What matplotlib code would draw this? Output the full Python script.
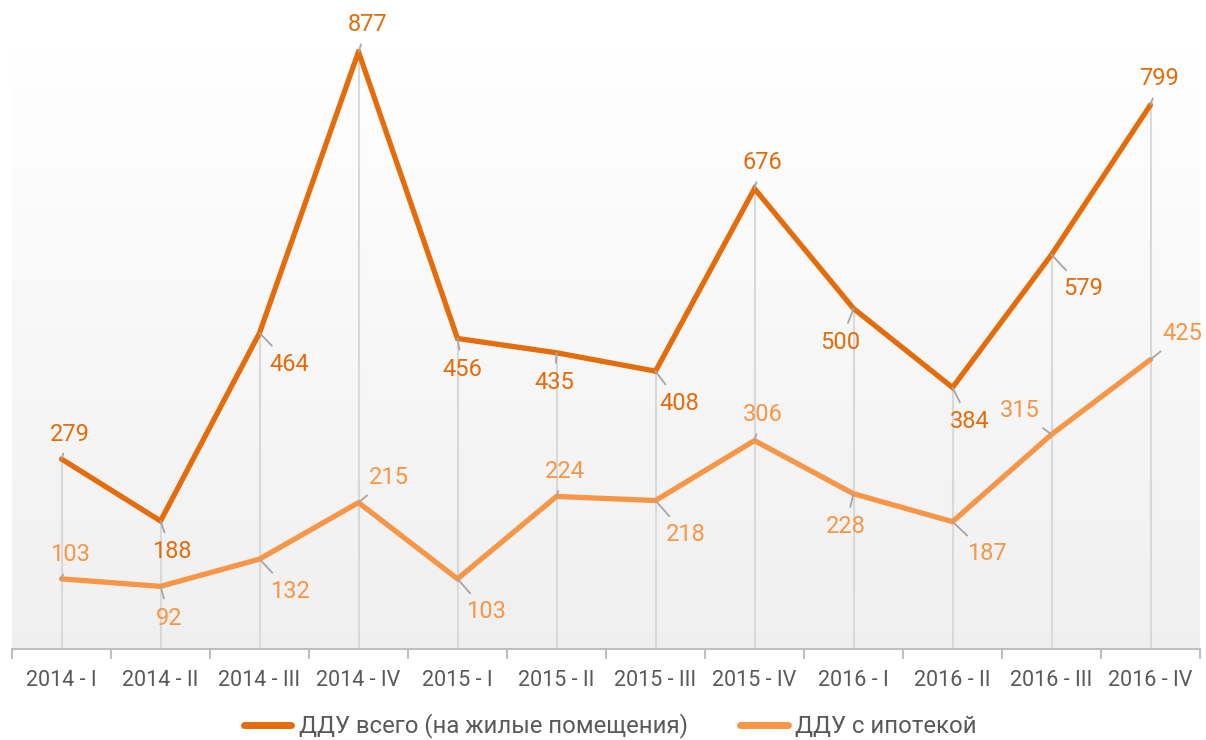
import numpy as np
import matplotlib.pyplot as plt
from matplotlib.lines import Line2D

plt.rcParams['font.family'] = ['Roboto', 'DejaVu Sans']

quarters = ['2014 - I', '2014 - II', '2014 - III', '2014 - IV',
            '2015 - I', '2015 - II', '2015 - III', '2015 - IV',
            '2016 - I', '2016 - II', '2016 - III', '2016 - IV']
ddu_total = [279, 188, 464, 877, 456, 435, 408, 676, 500, 384, 579, 799]
ddu_mortgage = [103, 92, 132, 215, 103, 224, 218, 306, 228, 187, 315, 425]
names = ['ДДУ всего (на жилые помещения)', 'ДДУ с ипотекой']

# label offsets in pixels (dx, dy), y up
off_total = [(8, 25), (11, -31), (30, -31), (9, 27), (5, -31), (-2, -30),
             (24, -32), (8, 26), (-13, -34), (17, -34), (32, -34), (9, 26)]
off_mortgage = [(8, 24), (9, -32), (30, -32), (30, 25), (29, -33), (8, 25),
                (30, -34), (8, 26), (-8, -33), (34, -32), (-32, 24), (32, 26)]

c_dark = '#E46C0A'
c_light = '#F79646'

fig = plt.figure(figsize=(12.06, 7.4), dpi=100)
ax = fig.add_axes([12 / 1206, 91 / 740, 1188 / 1206, 600 / 740])
x = np.arange(len(quarters))

ax.set_xlim(-0.5, 11.5)
ax.set_ylim(0, 600 / 0.681)

# background gradient
grad = np.linspace(0, 1, 256).reshape(-1, 1)
bg = np.ones((256, 1, 3))
for k in range(3):
    bg[:, 0, k] = 1.0 - grad[:, 0] * (1.0 - 0.94)
ax.imshow(bg, extent=[-0.5, 11.5, 0, 600 / 0.681], aspect='auto', origin='upper', zorder=0)

ax.vlines(x, 0, np.maximum(ddu_total, ddu_mortgage), color='#d9d9d9', lw=1.5, zorder=1)

ax.plot(x, ddu_total, color=c_dark, lw=3.8, solid_capstyle='round', solid_joinstyle='miter', zorder=3)
ax.plot(x, ddu_mortgage, color=c_light, lw=3.8, solid_capstyle='round', solid_joinstyle='miter', zorder=3)

for vals, offs, col in [(ddu_total, off_total, c_dark), (ddu_mortgage, off_mortgage, c_light)]:
    for i, v in enumerate(vals):
        dx, dy = offs[i]
        ax.annotate(str(v), xy=(i, v), xytext=(dx, dy), textcoords='offset pixels',
                    ha='center', va='center', fontsize=17, color=col, zorder=4,
                    arrowprops=dict(arrowstyle='-', color='#a6a6a6', lw=1.3,
                                    shrinkA=4, shrinkB=0))

for s in ['top', 'right', 'left']:
    ax.spines[s].set_visible(False)
ax.spines['bottom'].set_color('#bfbfbf')
ax.spines['bottom'].set_linewidth(1.5)
ax.set_yticks([])
ax.set_xticks(x)
ax.set_xticklabels(quarters, fontsize=15.5, color='#595959')
ax.tick_params(axis='x', which='major', length=0, pad=15)
ax.set_xticks(np.arange(-0.5, 12, 1), minor=True)
ax.tick_params(axis='x', which='minor', length=7, width=1.5, color='#bfbfbf', direction='out')

handles = [Line2D([], [], color=c_dark, lw=5, solid_capstyle='round'),
           Line2D([], [], color=c_light, lw=5, solid_capstyle='round')]
fig.legend(handles, names, loc='center', bbox_to_anchor=(0.506, 14 / 740), ncol=2,
           frameon=False, fontsize=17.2, handlelength=2.0, handletextpad=0.3,
           columnspacing=2.2, labelcolor='#595959')

fig.savefig('out.png', dpi=100)
